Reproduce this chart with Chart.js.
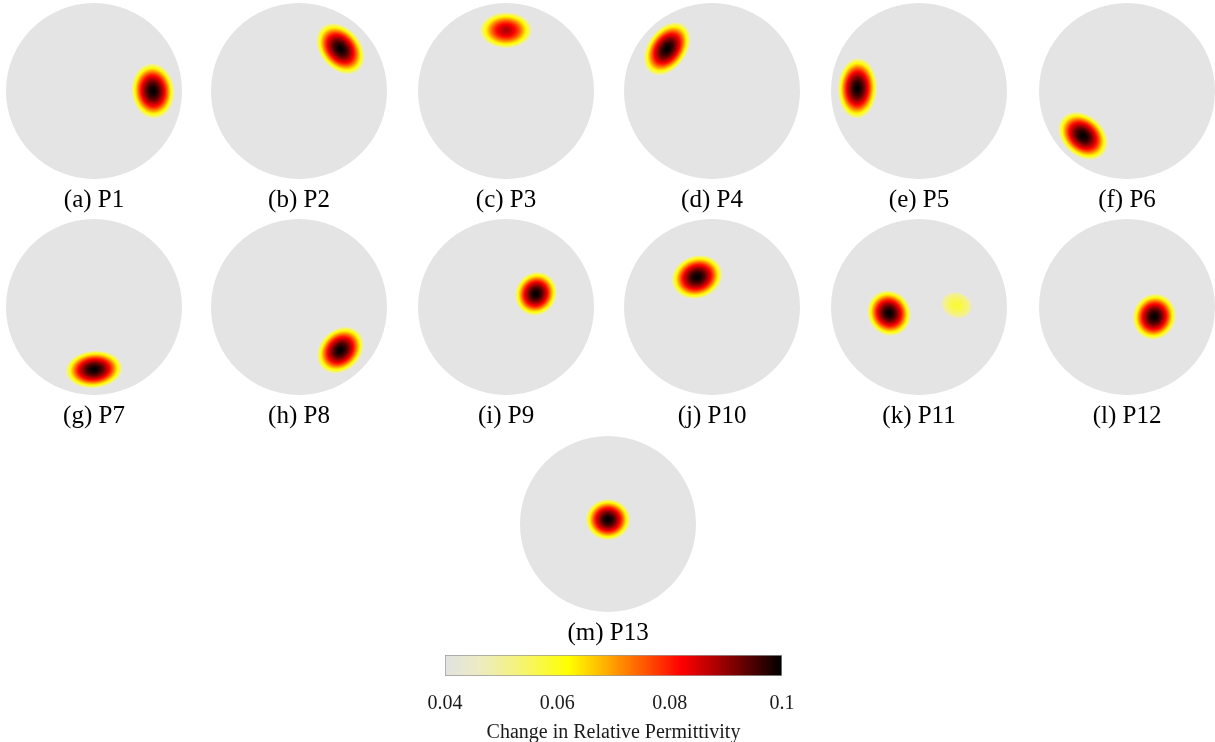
<!DOCTYPE html>
<html>
<head>
<meta charset="utf-8">
<script src="https://cdn.jsdelivr.net/npm/chart.js@4.4.0/dist/chart.umd.min.js"></script>
<style>
  html, body { margin: 0; padding: 0; background: #fff; overflow: hidden; }
  #page { position: relative; width: 1215px; height: 742px; overflow: hidden; }
  #page canvas { position: absolute; }
</style>
</head>
<body>
<div id="page"></div>
<script>
// panel captions
const panelLabels = ['(a) P1', '(b) P2', '(c) P3', '(d) P4', '(e) P5', '(f) P6',
  '(g) P7', '(h) P8', '(i) P9', '(j) P10', '(k) P11', '(l) P12', '(m) P13']

// reconstructed inclusions, unit-disk coordinates (one entry per blob, P11 has two)
const blobPanel = [0, 1, 2, 3, 4, 5, 6, 7, 8, 9, 10, 10, 11, 12]
const blobX     = [0.67, 0.47, 0.00, -0.51, -0.70, -0.50, 0.00, 0.47, 0.34, -0.17, -0.34, 0.43, 0.31, 0.00]
const blobY     = [0.00, 0.48, 0.69, 0.48, 0.03, -0.51, -0.71, -0.49, 0.15, 0.34, -0.07, 0.02, -0.11, 0.05]
const blobMajor = [0.31, 0.32, 0.29, 0.33, 0.34, 0.31, 0.32, 0.29, 0.25, 0.29, 0.26, 0.17, 0.26, 0.25]
const blobMinor = [0.24, 0.23, 0.20, 0.22, 0.22, 0.23, 0.21, 0.23, 0.23, 0.24, 0.24, 0.14, 0.24, 0.23]
const blobAngle = [95, -50, 0, 55, 88, -42, 5, 45, 60, 20, -60, -20, 70, 0]
const blobPeak  = [0.1, 0.1, 0.088, 0.1, 0.1, 0.1, 0.1, 0.1, 0.1, 0.1, 0.1, 0.058, 0.1, 0.1]

// colour bar
const barRange = [0.04, 0.1]
const barStep = 0.02
const barTitle = 'Change in Relative Permittivity'

// "hot" colour map as shown on the bar
const hotStops  = [0.04, 0.046, 0.053, 0.062, 0.067, 0.071, 0.076, 0.082, 0.088, 0.094, 0.1]
const hotColors = ['#e2e2e2', '#ecebc4', '#f5f37a', '#ffff00', '#ffc400', '#ff9000',
  '#ff5000', '#ff0000', '#b00000', '#580000', '#000000']
const diskColor = '#e4e4e4'

// page layout
const colCenters = [93.5, 299, 505.5, 712, 918.5, 1127]
const rowCenters = [90.5, 306.5, 524]
const serif = 'Liberation Serif'

Chart.defaults.color = '#000'

function hexRgb(h) {
  return [1, 3, 5].map(i => parseInt(h.slice(i, i + 2), 16))
}

function hot(v) {
  if (v <= hotStops[0]) return hotColors[0]
  for (let i = 1; i < hotStops.length; i++) {
    if (v <= hotStops[i]) {
      const f = (v - hotStops[i - 1]) / (hotStops[i] - hotStops[i - 1])
      const a = hexRgb(hotColors[i - 1]), b = hexRgb(hotColors[i])
      const c = a.map((x, k) => Math.round(x + (b[k] - x) * f))
      return `rgb(${c[0]},${c[1]},${c[2]})`
    }
  }
  return hotColors[hotColors.length - 1]
}

// grey tank + blobs, placed through the chart scales
const eitPlugin = {
  id: 'eit',
  beforeDatasetsDraw(chart) {
    const { ctx, scales: { x, y } } = chart
    const cx = x.getPixelForValue(0), cy = y.getPixelForValue(0)
    const r = x.getPixelForValue(1) - cx
    ctx.save()
    ctx.beginPath()
    ctx.arc(cx, cy, r, 0, Math.PI * 2)
    ctx.fillStyle = diskColor
    ctx.fill()
    ctx.restore()
  },
  afterDatasetsDraw(chart) {
    const { ctx, scales: { x, y } } = chart
    const cx = x.getPixelForValue(0), cy = y.getPixelForValue(0)
    const r = x.getPixelForValue(1) - cx
    ctx.save()
    ctx.beginPath()
    ctx.arc(cx, cy, r, 0, Math.PI * 2)
    ctx.clip()
    chart.data.datasets.forEach((ds, di) => {
      const meta = chart.getDatasetMeta(di)
      meta.data.forEach((pt, i) => {
        const b = ds.data[i]
        ctx.save()
        ctx.translate(pt.x, pt.y)
        ctx.rotate(-b.angle * Math.PI / 180)
        ctx.scale(b.major * r, b.minor * r)
        const g = ctx.createRadialGradient(0, 0, 0, 0, 0, 1)
        for (let k = 0; k <= 20; k++) {
          const t = k / 20
          g.addColorStop(t, hot(b.peak - (b.peak - 0.048) * Math.pow(t, 1.8)))
        }
        ctx.beginPath()
        ctx.arc(0, 0, 1, 0, Math.PI * 2)
        ctx.fillStyle = g
        ctx.fill()
        ctx.restore()
      })
    })
    ctx.restore()
  }
}

const page = document.getElementById('page')

function addCanvas(left, top, w, h) {
  const c = document.createElement('canvas')
  c.width = w
  c.height = h
  c.style.left = left + 'px'
  c.style.top = top + 'px'
  page.appendChild(c)
  return c
}

panelLabels.forEach((label, p) => {
  const cx = p < 12 ? colCenters[p % 6] : 608
  const cy = rowCenters[Math.floor(p / 6)]
  const canvas = addCanvas(Math.round(cx - 100), Math.round(cy - 90), 200, 214)
  const points = []
  blobPanel.forEach((bp, i) => {
    if (bp === p) {
      points.push({ x: blobX[i], y: blobY[i], major: blobMajor[i], minor: blobMinor[i],
        angle: blobAngle[i], peak: blobPeak[i] })
    }
  })
  new Chart(canvas, {
    type: 'scatter',
    data: { datasets: [{ data: points, pointRadius: 0, pointHoverRadius: 0 }] },
    options: {
      responsive: false,
      animation: false,
      events: [],
      layout: { padding: { left: 12, right: 12, top: 2, bottom: 0 } },
      plugins: {
        legend: { display: false },
        tooltip: { enabled: false },
        title: {
          display: true,
          position: 'bottom',
          text: label,
          color: '#000',
          font: { family: serif, size: 25, weight: 'normal' },
          padding: { top: 6, bottom: 0 }
        }
      },
      scales: {
        x: { type: 'linear', min: -1, max: 1, display: false },
        y: { type: 'linear', min: -1, max: 1, display: false }
      }
    },
    plugins: [eitPlugin]
  })
})

// colour bar
const cb = addCanvas(405, 645, 420, 100)
new Chart(cb, {
  type: 'bar',
  data: {
    labels: [''],
    datasets: [{
      data: [barRange],
      backgroundColor: (c) => {
        const area = c.chart.chartArea
        if (!area) return hotColors[0]
        const g = c.chart.ctx.createLinearGradient(area.left, 0, area.right, 0)
        hotStops.forEach((s, i) => {
          g.addColorStop((s - barRange[0]) / (barRange[1] - barRange[0]), hotColors[i])
        })
        return g
      },
      borderColor: '#9a9a9a',
      borderWidth: 1,
      borderSkipped: false,
      barPercentage: 1,
      categoryPercentage: 1
    }]
  },
  options: {
    indexAxis: 'y',
    responsive: false,
    animation: false,
    events: [],
    layout: { padding: { left: 40, right: 43, top: 10, bottom: 0 } },
    plugins: {
      legend: { display: false },
      tooltip: { enabled: false },
      title: {
        display: true,
        position: 'bottom',
        text: barTitle,
        color: '#1a1a1a',
        font: { family: serif, size: 20, weight: 'normal' },
        padding: { top: 5, bottom: 0 }
      }
    },
    scales: {
      x: {
        type: 'linear',
        min: barRange[0],
        max: barRange[1],
        grid: { display: false, drawTicks: true, tickLength: 16 },
        border: { display: false },
        ticks: {
          stepSize: barStep,
          padding: 0,
          color: '#1a1a1a',
          font: { family: serif, size: 20 },
          callback: (v) => String(+Number(v).toFixed(2))
        }
      },
      y: { display: false }
    }
  }
})
</script>
</body>
</html>
